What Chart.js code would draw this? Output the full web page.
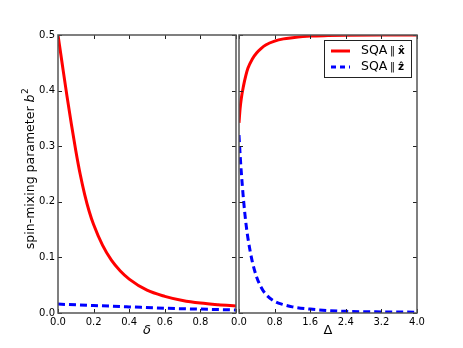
<!DOCTYPE html>
<html>
<head>
<meta charset="utf-8">
<script src="https://cdn.jsdelivr.net/npm/chart.js@4/dist/chart.umd.min.js"></script>
<style>
html, body { margin: 0; padding: 0; background: #fff; }
#wrap { position: relative; width: 463px; height: 348px; overflow: hidden; }
#wrap canvas { position: absolute; top: 0; }
#left { left: 0; }
#right { left: 220px; }
</style>
</head>
<body>
<div id="wrap">
	<canvas id="left" width="240" height="348"></canvas>
	<canvas id="right" width="243" height="348"></canvas>
</div>
<script>
// left panel: b^2 against delta
var deltaRed  = [0, 0.025, 0.05, 0.075, 0.1, 0.125, 0.15, 0.175, 0.2, 0.25, 0.3, 0.35, 0.4, 0.5, 0.6, 0.7, 0.8, 0.9, 1.0];
var leftRed   = [0.500, 0.445, 0.391, 0.340, 0.292, 0.249, 0.213, 0.183, 0.159, 0.122, 0.095, 0.0755, 0.061, 0.041, 0.030, 0.0225, 0.0178, 0.0148, 0.0126];
var deltaBlue = [0, 0.2, 0.4, 0.6, 0.8, 1.0];
var leftBlue  = [0.016, 0.0135, 0.011, 0.0085, 0.007, 0.0055];

// right panel: b^2 against Delta
var bigDelta  = [0, 0.025, 0.05, 0.1, 0.15, 0.2, 0.3, 0.4, 0.5, 0.6, 0.8, 1.0, 1.2, 1.6, 2.0, 2.4, 3.2, 4.0];
var rightRed  = [0.342, 0.368, 0.385, 0.408, 0.426, 0.440, 0.457, 0.468, 0.476, 0.482, 0.489, 0.493, 0.495, 0.498, 0.499, 0.4995, 0.5, 0.5];
var rightBlue = [0.320, 0.285, 0.255, 0.205, 0.165, 0.135, 0.092, 0.064, 0.046, 0.034, 0.021, 0.015, 0.011, 0.007, 0.0045, 0.003, 0.002, 0.0015];

var yTicks = [0, 0.1, 0.2, 0.3, 0.4, 0.5];
var seriesNames = ['SQA', 'SQA'];

(function () {
	'use strict';

	var FONT = 'DejaVu Sans';

	function pairs(xs, ys) {
		return xs.map(function (x, i) { return { x: x, y: ys[i] }; });
	}

	function lineSet(data, color, dashed) {
		return {
			data: data,
			borderColor: color,
			borderWidth: 3,
			borderDash: dashed ? [7, 4] : [],
			pointRadius: 0,
			cubicInterpolationMode: 'monotone',
			clip: 0
		};
	}

	// matplotlib-like frame with inward ticks on all four sides
	var framePlugin = {
		id: 'frame',
		afterDatasetsDraw: function (chart) {
			var a = chart.chartArea, ctx = chart.ctx;
			var xs = chart.scales.x, ys = chart.scales.y;
			ctx.save();
			ctx.strokeStyle = '#222';
			ctx.lineWidth = 1;
			ctx.beginPath();
			xs.ticks.forEach(function (t) {
				var px = Math.round(xs.getPixelForValue(t.value)) + 0.5;
				ctx.moveTo(px, a.bottom); ctx.lineTo(px, a.bottom - 4);
				ctx.moveTo(px, a.top); ctx.lineTo(px, a.top + 4);
			});
			ys.ticks.forEach(function (t) {
				var py = Math.round(ys.getPixelForValue(t.value)) + 0.5;
				ctx.moveTo(a.left, py); ctx.lineTo(a.left + 4, py);
				ctx.moveTo(a.right, py); ctx.lineTo(a.right - 4, py);
			});
			ctx.stroke();
			ctx.strokeStyle = '#555';
			ctx.lineWidth = 1.5;
			ctx.strokeRect(a.left, a.top, a.right - a.left, a.bottom - a.top);
			ctx.restore();
		}
	};

	function xScale(max, step, hideLast) {
		return {
			type: 'linear',
			min: 0,
			max: max,
			ticks: {
				stepSize: step,
				autoSkip: false,
				maxRotation: 0,
				padding: 3,
				color: '#000',
				font: { family: FONT, size: 10 },
				callback: function (v) {
					if (hideLast && Math.abs(v - max) < 1e-9) { return ''; }
					return v.toFixed(1);
				}
			},
			grid: { display: false, drawTicks: false },
			border: { display: false },
			afterFit: function (s) { s.height = 35; }
		};
	}

	function yScale(showLabels, width) {
		return {
			type: 'linear',
			min: 0,
			max: 0.5,
			afterBuildTicks: function (s) {
				s.ticks = yTicks.map(function (v) { return { value: v }; });
			},
			ticks: {
				display: showLabels,
				padding: 3,
				color: '#000',
				font: { family: FONT, size: 10 },
				callback: function (v) { return v.toFixed(1); }
			},
			grid: { display: false, drawTicks: false },
			border: { display: false },
			afterFit: function (s) { s.width = width; }
		};
	}

	var baseOptions = function (padRight, xs, ys) {
		return {
			responsive: false,
			animation: false,
			events: [],
			layout: { padding: { left: 0, top: 35, right: padRight, bottom: 0 } },
			plugins: { legend: { display: false }, tooltip: { enabled: false } },
			scales: { x: xs, y: ys }
		};
	};

	// axis labels for the left canvas
	var leftText = {
		id: 'leftText',
		afterDraw: function (chart) {
			var ctx = chart.ctx;
			ctx.save();
			ctx.fillStyle = '#000';
			ctx.textBaseline = 'middle';

			ctx.font = 'italic 13px "' + FONT + '"';
			ctx.textAlign = 'center';
			ctx.fillText('δ', 147, 331);

			ctx.translate(31, 169);
			ctx.rotate(-Math.PI / 2);
			var main = 'spin-mixing parameter ';
			ctx.font = '12.5px "' + FONT + '"';
			var w1 = ctx.measureText(main).width;
			ctx.font = 'italic 12.5px "' + FONT + '"';
			var w2 = ctx.measureText('b').width;
			ctx.font = '9px "' + FONT + '"';
			var w3 = ctx.measureText('2').width;
			var x0 = -(w1 + w2 + w3) / 2;
			ctx.textAlign = 'left';
			ctx.font = '12.5px "' + FONT + '"';
			ctx.fillText(main, x0, 0);
			ctx.font = 'italic 12.5px "' + FONT + '"';
			ctx.fillText('b', x0 + w1, 0);
			ctx.font = '9px "' + FONT + '"';
			ctx.fillText('2', x0 + w1 + w2 + 0.5, -5);
			ctx.restore();
		}
	};

	// Delta label and legend for the right canvas
	var rightText = {
		id: 'rightText',
		afterDraw: function (chart) {
			var ctx = chart.ctx;
			ctx.save();
			ctx.fillStyle = '#000';
			ctx.textBaseline = 'middle';
			ctx.textAlign = 'center';
			ctx.font = '13px "' + FONT + '"';
			ctx.fillText('Δ', 108, 331);

			// legend box
			ctx.fillStyle = '#fff';
			ctx.fillRect(104.5, 40.5, 87, 37);
			ctx.strokeStyle = '#222';
			ctx.lineWidth = 1;
			ctx.strokeRect(104.5, 40.5, 87, 37);

			var rows = [
				{ y: 51, color: '#ff0000', dash: [], hat: 'x\u0302' },
				{ y: 67, color: '#0000ff', dash: [5, 4], hat: 'z\u0302' }
			];
			rows.forEach(function (r, i) {
				ctx.strokeStyle = r.color;
				ctx.lineWidth = 3;
				ctx.setLineDash(r.dash);
				ctx.beginPath();
				ctx.moveTo(111, r.y);
				ctx.lineTo(130, r.y);
				ctx.stroke();
				ctx.setLineDash([]);
				ctx.fillStyle = '#000';
				ctx.textAlign = 'left';
				ctx.font = '12.5px "' + FONT + '"';
				ctx.fillText(seriesNames[i], 141, r.y);
				ctx.font = '10px "' + FONT + '"';
				ctx.fillText('\u2016', 170, r.y);
				ctx.font = 'bold 10.5px "' + FONT + '"';
				ctx.fillText(r.hat, 178, r.y);
			});
			ctx.restore();
		}
	};

	new Chart(document.getElementById('left'), {
		type: 'line',
		data: {
			datasets: [
				lineSet(pairs(deltaRed, leftRed), '#ff0000', false),
				lineSet(pairs(deltaBlue, leftBlue), '#0000ff', true)
			]
		},
		options: baseOptions(4, xScale(1.0, 0.2, true), yScale(true, 58)),
		plugins: [framePlugin, leftText]
	});

	new Chart(document.getElementById('right'), {
		type: 'line',
		data: {
			datasets: [
				lineSet(pairs(bigDelta, rightRed), '#ff0000', false),
				lineSet(pairs(bigDelta, rightBlue), '#0000ff', true)
			]
		},
		options: baseOptions(46, xScale(4.0, 0.8, false), yScale(false, 19)),
		plugins: [framePlugin, rightText]
	});
})();
</script>
</body>
</html>
